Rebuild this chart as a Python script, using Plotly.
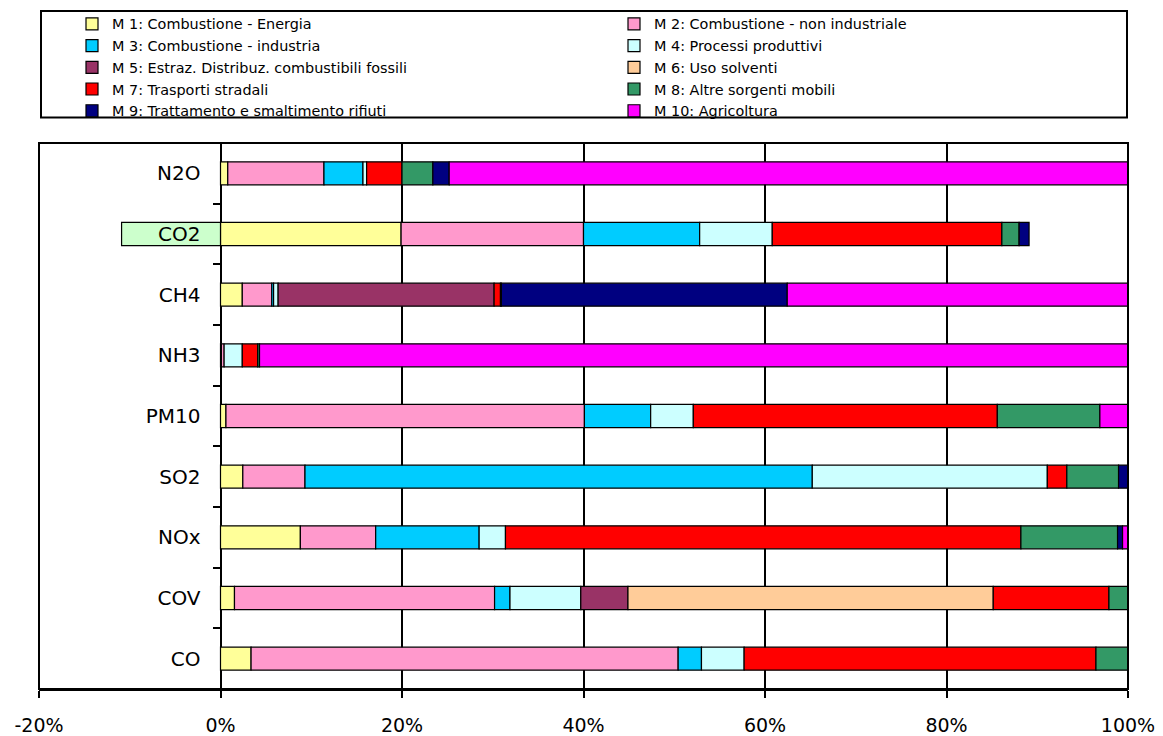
import plotly.graph_objects as go

# ---------------- data ----------------
categories = ["CO", "COV", "NOx", "SO2", "PM10", "NH3", "CH4", "CO2", "N2O"]

series_names = [
    "M 1: Combustione - Energia",
    "M 2: Combustione - non industriale",
    "M 3: Combustione - industria",
    "M 4: Processi produttivi",
    "M 5: Estraz. Distribuz. combustibili fossili",
    "M 6: Uso solventi",
    "M 7: Trasporti stradali",
    "M 8: Altre sorgenti mobili",
    "M 9: Trattamento e smaltimento rifiuti",
    "M 10: Agricoltura",
]

#            CO     COV    NOx    SO2    PM10   NH3   CH4    CO2   N2O
m1  = [3.37,  1.54,  8.80,  2.46,  0.60,  0.10,  2.40, 19.90, 0.80]
m2  = [47.06, 28.66, 8.30,  6.85, 39.50,  0.30,  3.25, 20.10, 10.60]
m3  = [2.57,  1.70, 11.40, 55.90,  7.30,  0.00,  0.20, 12.80, 4.30]
m4  = [4.70,  7.80,  2.90, 25.90,  4.70,  2.00,  0.50,  8.00, 0.40]
m5  = [0.00,  5.20,  0.00,  0.00,  0.00,  0.00, 23.80,  0.00, 0.00]
m6  = [0.00, 40.25,  0.00,  0.00,  0.00,  0.00,  0.00,  0.00, 0.00]
m7  = [38.77, 12.75, 56.80, 2.15, 33.50,  1.70,  0.70, 25.30, 3.90]
m8  = [3.53,  2.10, 10.65,  5.70, 11.30,  0.20,  0.10,  1.90, 3.40]
m9  = [0.00,  0.00,  0.55,  1.04,  0.00,  0.00, 31.50,  1.10, 1.80]
m10 = [0.00,  0.00,  0.60,  0.00,  3.10, 95.70, 37.55,  0.00, 74.80]
# negative contribution (absorptions), only for CO2, not in legend
m11 = [0.00,  0.00,  0.00,  0.00,  0.00,  0.00,  0.00, -10.90, 0.00]

series_values = [m1, m2, m3, m4, m5, m6, m7, m8, m9, m10]

x_tick_values = [-20, 0, 20, 40, 60, 80, 100]
x_tick_labels = ["-20%", "0%", "20%", "40%", "60%", "80%", "100%"]

# ---------------- style ----------------
colors = ["#FFFF99", "#FF99CC", "#00CCFF", "#CCFFFF", "#993366",
          "#FFCC99", "#FF0000", "#339966", "#000080", "#FF00FF"]
neg_color = "#CCFFCC"
FONT = "DejaVu Sans"

# the page body adds an 8px offset, so the figure is 8px smaller
OFF = 8
W, H = 1163 - OFF, 736 - OFF
ML, MR, MT, MB = 39 - OFF, 35, 143 - OFF, 47
PW = W - ML - MR
PH = H - MT - MB


def clean(vals):
    return [v if v != 0 else None for v in vals]


fig = go.Figure()
for i, (name, vals, col) in enumerate(zip(series_names, series_values, colors)):
    fig.add_trace(go.Bar(
        y=categories, x=clean(vals), name=name, orientation="h",
        legend="legend" if i % 2 == 0 else "legend2",
        marker=dict(color=col, line=dict(color="black", width=1.2)),
        hoverinfo="name+x",
    ))
fig.add_trace(go.Bar(
    y=categories, x=clean(m11), name="M 11: Altre sorgenti e assorbimenti",
    orientation="h", showlegend=False,
    marker=dict(color=neg_color, line=dict(color="black", width=1.2)),
))


def px_x(p):  # window pixel -> paper fraction
    return (p - OFF - ML) / PW


def px_y(p):
    return (H - MB - (p - OFF)) / PH


shapes = [
    # plot-area border
    dict(type="rect", xref="paper", yref="paper", x0=0, x1=1, y0=0, y1=1,
         line=dict(color="black", width=2), layer="above"),
    # legend box
    dict(type="rect", xref="paper", yref="paper",
         x0=px_x(41), x1=px_x(1127), y0=px_y(117.5), y1=px_y(11),
         line=dict(color="black", width=2), fillcolor="rgba(0,0,0,0)"),
]

legend_common = dict(
    orientation="v", xref="container", yref="container",
    y=1 + 1.2 / H, xanchor="left", yanchor="top",
    bgcolor="rgba(0,0,0,0)", borderwidth=0,
    font=dict(family=FONT, size=14.4, color="black"),
    traceorder="normal",
)

fig.update_layout(
    width=W, height=H,
    margin=dict(l=ML, r=MR, t=MT, b=MB, pad=0, autoexpand=False),
    paper_bgcolor="white", plot_bgcolor="white",
    barmode="relative", bargap=0.62,
    font=dict(family=FONT, color="black", size=19),
    shapes=shapes,
    showlegend=True,
    legend=dict(x=(72 - OFF) / W, **legend_common),
    legend2=dict(x=(614 - OFF) / W, **legend_common),
    xaxis=dict(
        range=[-20, 100], tickmode="array", tickvals=x_tick_values,
        ticktext=x_tick_labels, showgrid=True, gridcolor="black", gridwidth=1.5,
        zeroline=False, showline=True, linecolor="black", linewidth=2,
        ticks="outside", ticklen=7, tickcolor="black", tickwidth=1.5,
        ticklabelstandoff=11, tickfont=dict(family=FONT, size=19, color="black"),
        fixedrange=True,
    ),
    yaxis=dict(
        type="category", categoryorder="array", categoryarray=categories,
        anchor="free", position=20 / 120, side="left",
        showgrid=False, zeroline=False, showline=False,
        ticks="outside", ticklen=8, tickcolor="black", tickwidth=2,
        tickson="boundaries", ticklabelstandoff=20,
        tickfont=dict(family=FONT, size=20, color="black"),
        fixedrange=True,
    ),
)

fig.write_html("out.html")
